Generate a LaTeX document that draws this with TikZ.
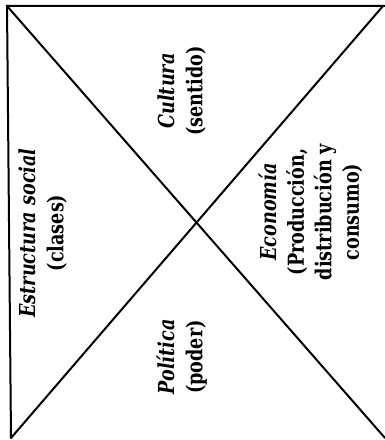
\documentclass[tikz,border=0pt]{standalone}
\usepackage{fontspec}
\usepackage{graphicx}
\setmainfont{DejaVu Serif}
% a centred block of lines, set a little narrow
\newcommand\fieldtext[1]{\scalebox{0.8}[1]{\begin{tabular}{@{}c@{}}#1\end{tabular}}}
\begin{document}
\begin{tikzpicture}[x=1pt,y=1pt,
  frame/.style={line width=2pt, line cap=round, line join=miter},
  label/.style={rotate=90, font=\fontsize{22}{27.5}\selectfont\bfseries, inner sep=0pt}]
  \useasboundingbox (0,0) rectangle (385,440);
  % corners of the frame
  \coordinate (tl) at (7,434);
  \coordinate (tr) at (383,434);
  \coordinate (tre) at (385,434);
  \coordinate (br) at (385,2);
  \coordinate (bl) at (11,2);
  % frame: top edge, left edge and the two diagonals
  \draw[frame] (bl) -- (tl) -- (tre);
  \draw[frame] (tl) -- (br);
  \draw[frame] (bl) -- (tr);
  % the four fields
  \node[label] (social) at (44,207) {\fieldtext{\textit{Estructura social}\\(clases)}};
  \node[label] (cultura) at (183,349) {\fieldtext{\textit{Cultura}\\(sentido)}};
  \node[label] (politica) at (183,83) {\fieldtext{\textit{Política}\\(poder)}};
  \node[label] (economia) at (312,228) {\fieldtext{\textit{Economía}\\(Producción,\\distribución y\\consumo)}};
\end{tikzpicture}
\end{document}
